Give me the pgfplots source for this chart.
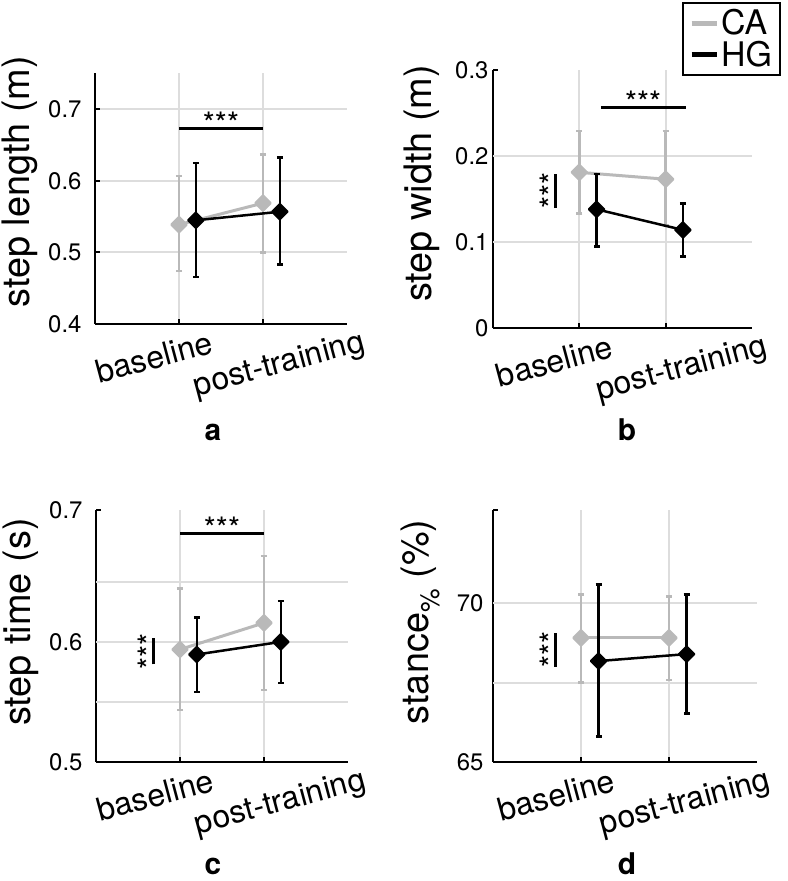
\documentclass[border=0pt]{standalone}
\usepackage{fontspec}
\setmainfont{TeX Gyre Heros}
\usepackage{pgfplots}
\pgfplotsset{compat=1.18}
\definecolor{CAgray}{RGB}{185,185,185}
\definecolor{gridgray}{RGB}{221,221,221}
\pgfplotsset{
  panel/.style={
    scale only axis, anchor=south west,
    axis x line*=bottom, axis y line*=left,
    axis line style={line width=2.5bp, black},
    xmin=0, xmax=3,
    xtick={1}, xticklabels={baseline},
    extra x ticks={2}, extra x tick labels={post-training},
    extra x tick style={grid=major, xticklabel style={xshift=37.8bp, yshift=-19.4bp}},
    xmajorgrids=true,
    grid style={gridgray, line width=2bp},
    tick align=inside,
    major tick length=5bp,
    tick style={black, line width=2bp},
    xticklabel style={font=\fontsize{32}{34}\selectfont, xshift=-25bp, yshift=-33bp, rotate=15, anchor=center},
    yticklabel style={font=\fontsize{24}{26}\selectfont},
    /pgf/number format/assume math mode=true,
    ylabel style={font=\fontsize{38}{40}\selectfont, anchor=center},
    extra y tick labels={},
    extra y tick style={grid=major, major tick length=0pt},
  },
  CA/.style={CAgray, line width=3bp, mark=square*, mark size=5.5bp,
    mark options={rotate=45, line join=round, line width=2bp, fill=CAgray, draw=CAgray},
    error bars/.cd, y dir=both, y explicit,
    error bar style={line width=2.5bp, CAgray},
    error mark options={rotate=90, line width=2.5bp, mark size=3bp, CAgray}},
  HG/.style={black, line width=2.5bp, mark=square*, mark size=5.5bp,
    mark options={rotate=45, line join=round, line width=2bp, fill=black, draw=black},
    error bars/.cd, y dir=both, y explicit,
    error bar style={line width=2.5bp, black},
    error mark options={rotate=90, line width=2.5bp, mark size=3bp, black}},
  sig/.style={black, line width=3bp, forget plot},
}
\newcommand{\starfont}{\fontsize{31}{33}\selectfont}
\newcommand{\letterfont}{\bfseries\fontsize{30}{32}\selectfont}
\begin{document}
\begin{tikzpicture}
\useasboundingbox (0,0) rectangle (788bp,881bp);
% ---------- a
\begin{axis}[panel, at={(95bp,557bp)}, width=252bp, height=251bp,
  ymin=0.4, ymax=0.751, ytick={0.4,0.5,0.6,0.7}, yticklabels={0.4,0.5,0.6,0.7},
  ymajorgrids=true,
  yticklabel style={xshift=-10bp},
  ylabel={step length (m)}, ylabel style={at={(axis description cs:-0.30,0.566)}}]
\addplot[CA] coordinates {(1,0.539) += (0,0.068) -= (0,0.065) (2,0.569) += (0,0.068) -= (0,0.069)};
\addplot[HG] coordinates {(1.2,0.545) += (0,0.080) -= (0,0.079) (2.2,0.557) += (0,0.076) -= (0,0.074)};
\addplot[sig] coordinates {(1,0.674) (2,0.674)};
\node[anchor=base, font=\starfont, yshift=-6bp] at (axis cs:1.5,0.674) {***};
\end{axis}
% ---------- b
\begin{axis}[panel, at={(493bp,553bp)}, width=259bp, height=258bp,
  ymin=0, ymax=0.3, ytick={0,0.1,0.2,0.3}, yticklabels={0,0.1,0.2,0.3},
  extra y ticks={0.1,0.2},
  yticklabel style={xshift=-1bp},
  ylabel={step width (m)}, ylabel style={at={(axis description cs:-0.275,0.56)}},
  legend style={at={(axis description cs:1.112,1.265)}, anchor=north east, draw=black, line width=2bp,
    font=\fontsize{34}{36}\selectfont, inner xsep=6bp, inner ysep=5bp, row sep=1bp,
    cells={anchor=west}}]
\addlegendimage{legend image code/.code={\draw[CAgray, line width=5bp] (0bp,0bp) -- (25bp,0bp);}}
\addlegendentry{CA}
\addlegendimage{legend image code/.code={\draw[black, line width=5bp] (0bp,0bp) -- (25bp,0bp);}}
\addlegendentry{HG}
\addplot[CA] coordinates {(1,0.181) += (0,0.048) -= (0,0.048) (2,0.173) += (0,0.056) -= (0,0.053)};
\addplot[HG] coordinates {(1.2,0.138) += (0,0.041) -= (0,0.043) (2.2,0.114) += (0,0.031) -= (0,0.031)};
\addplot[sig] coordinates {(1.25,0.256) (2.23,0.256)};
\addplot[sig] coordinates {(0.72,0.1395) (0.72,0.1795)};
\node[anchor=base, font=\starfont, yshift=-6bp] at (axis cs:1.74,0.256) {***};
\node[rotate=90, anchor=base, font=\starfont] at ([xshift=7bp]axis cs:0.72,0.1595) {***};
\end{axis}
% ---------- c
\begin{axis}[panel, at={(96bp,119bp)}, width=252bp, height=252bp,
  ymin=0.5, ymax=0.7098, ytick={0.5,0.55,0.6,0.65,0.7098}, yticklabels={0.5,,0.6,,0.7},
  extra y ticks={0.55,0.6,0.65},
  yticklabel style={xshift=-10bp},
  ylabel={step time (s)}, ylabel style={at={(axis description cs:-0.30,0.555)}}]
\addplot[CA] coordinates {(1,0.5937) += (0,0.0508) -= (0,0.0506) (2,0.6158) += (0,0.0559) -= (0,0.056)};
\addplot[HG] coordinates {(1.2,0.5895) += (0,0.0308) -= (0,0.0312) (2.2,0.600) += (0,0.0339) -= (0,0.0342)};
\addplot[sig] coordinates {(1,0.690) (2,0.690)};
\addplot[sig] coordinates {(0.69,0.5812) (0.69,0.6029)};
\node[anchor=base, font=\starfont, yshift=-6bp] at (axis cs:1.5,0.690) {***};
\node[rotate=90, anchor=base, font=\starfont] at ([xshift=7bp]axis cs:0.69,0.592) {***};
\end{axis}
% ---------- d
\begin{axis}[panel, at={(493bp,119bp)}, width=264bp, height=252bp,
  ymin=65, ymax=72.94, ytick={65,67.5,70,72.94}, yticklabels={65,,70,},
  extra y ticks={67.5,70},
  yticklabel style={xshift=-6bp},
  ylabel={stance\textsubscript{\%} (\%)}, ylabel style={at={(axis description cs:-0.275,0.556)}}]
\addplot[CA] coordinates {(1,68.91) += (0,1.37) -= (0,1.40) (2,68.91) += (0,1.30) -= (0,1.33)};
\addplot[HG] coordinates {(1.2,68.18) += (0,2.42) -= (0,2.37) (2.2,68.40) += (0,1.88) -= (0,1.87)};
\addplot[sig] coordinates {(0.71,68.0) (0.71,69.07)};
\node[rotate=90, anchor=base, font=\starfont] at ([xshift=7bp]axis cs:0.71,68.535) {***};
\end{axis}
% panel letters
\node[font=\letterfont, anchor=base, inner sep=0pt] at (213bp,440bp) {a};
\node[font=\letterfont, anchor=base, inner sep=0pt] at (627bp,440bp) {b};
\node[font=\letterfont, anchor=base, inner sep=0pt] at (213bp,7bp) {c};
\node[font=\letterfont, anchor=base, inner sep=0pt] at (627bp,7bp) {d};
\end{tikzpicture}
\end{document}
